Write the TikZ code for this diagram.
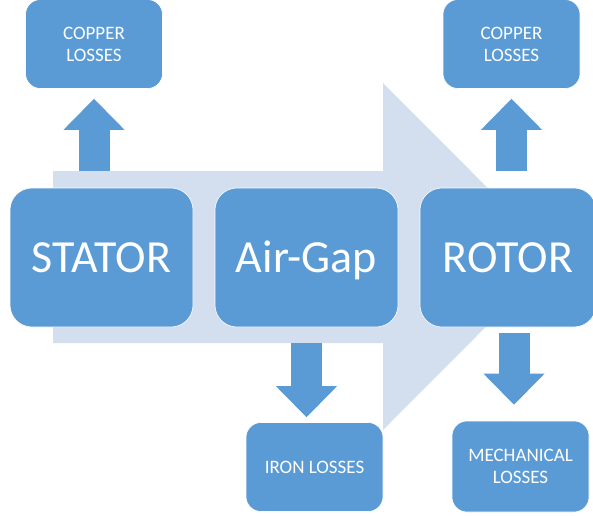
\documentclass[tikz,border=0pt]{standalone}
\usepackage{fontspec}
\setmainfont{Carlito}
\usetikzlibrary{calc,arrows.meta}
\definecolor{cbox}{HTML}{5B9BD5}
\definecolor{cflow}{HTML}{D3DEEF}

\begin{document}
\begin{tikzpicture}[x=1pt, y=-1pt,
  part/.style={fill=cbox, draw=white, line width=0.6pt, rounded corners=22pt,
    text=white, minimum width=183pt, minimum height=139pt, inner sep=0pt,
    text height=29pt, text depth=0pt, font=\fontsize{46}{54}\selectfont},
  loss/.style={fill=cbox, draw=white, line width=0.6pt, rounded corners=15pt,
    text=white, minimum width=137pt, minimum height=89pt, inner sep=0pt,
    align=center, font=\fontsize{19}{22}\selectfont},
  flow/.style={cbox, line width=31pt,
    -{Triangle[width=61pt, length=31pt, line width=0pt]}}]
\useasboundingbox (0,0) rectangle (593,515);
%% ------------------------------------------------------------------ power flow
\coordinate (bgNW) at (53,171);
\coordinate (bgSW) at (53,343);
\fill[cflow] (bgNW) -- (383,171) -- (383,83) -- (556,256.5) -- (383,430)
  -- (383,343) -- (bgSW) -- cycle;
%% ------------------------------------------------------------------ boxes
\node[loss] (cuS) at (94,44) {COPPER\\LOSSES};
\node[loss] (cuR) at (511.5,44) {COPPER\\LOSSES};
\node[part] (stator) at (101.5,257.5) {STATOR};
\node[part] (airgap) at (306.5,257.5) {Air-Gap};
\node[part, minimum width=176pt] (rotor) at (508,257.5) {ROTOR};
\node[loss] (iron) at (314.5,467) {IRON LOSSES};
\node[loss, minimum height=91pt] (mech) at (520.5,466.5) {MECHANICAL\\LOSSES};
%% ------------------------------------------------------------------ losses
\draw[flow] (cuS.south |- bgNW) -- ($(cuS.south)+(0,10)$);
\draw[flow] (cuR.south |- bgNW) -- ($(cuR.south)+(0,10)$);
\draw[flow] (airgap.south |- bgSW) -- ($(airgap.south |- iron.north)+(0,-5)$);
\coordinate (mechtop) at ($(rotor.south)+(6,6)$);
\draw[flow] (mechtop) -- ($(mechtop |- mech.north)+(0,-16)$);
\end{tikzpicture}
\end{document}
